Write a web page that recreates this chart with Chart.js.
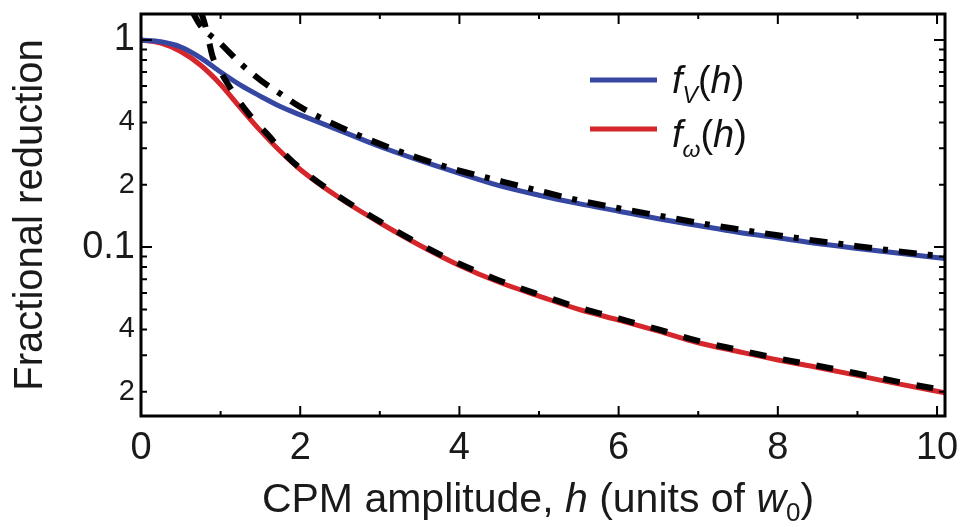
<!DOCTYPE html>
<html>
<head>
<meta charset="utf-8">
<script src="https://cdn.jsdelivr.net/npm/chart.js@4"></script>
<style>
  html, body { margin: 0; padding: 0; background: #fff; }
  #wrap { width: 960px; height: 527px; }
</style>
</head>
<body>
<div id="wrap"><canvas id="reduction-chart" width="960" height="527"></canvas></div>
<script>
// curves
var hMain = [0, 0.25, 0.5, 0.75, 1.0, 1.25, 1.5, 1.75, 2.0, 2.5, 3.0, 3.5, 4.0, 4.5, 5.0, 5.5, 6.0, 6.5, 7.0, 7.5, 8.0, 8.5, 9.0, 9.5, 10.1];
var fV = [1.0, 0.98, 0.925, 0.82, 0.70, 0.605, 0.535, 0.477, 0.435, 0.365, 0.306, 0.262, 0.227, 0.198, 0.178, 0.162, 0.149, 0.137, 0.127, 0.118, 0.111, 0.104, 0.0985, 0.0935, 0.088];
var fW = [1.0, 0.965, 0.88, 0.755, 0.61, 0.47, 0.365, 0.29, 0.237, 0.172, 0.131, 0.102, 0.0815, 0.0676, 0.058, 0.050, 0.0444, 0.0393, 0.0345, 0.0313, 0.0285, 0.0262, 0.024, 0.0219, 0.0198];

// large-h approximations (black dash-dot and dashed)
var hApproxV = [0.64, 0.75, 1.0, 1.25, 1.5, 1.75, 2.0, 2.5, 3.0, 3.5, 4.0, 4.5, 5.0, 5.5, 6.0, 6.5, 7.0, 7.5, 8.0, 8.5, 9.0, 9.5, 10.1];
var approxV = [1.38, 1.17, 0.96, 0.77, 0.64, 0.55, 0.475, 0.38, 0.315, 0.268, 0.234, 0.209, 0.187, 0.168, 0.154, 0.142, 0.131, 0.122, 0.114, 0.107, 0.101, 0.0955, 0.090];
var hApproxW = [0.75, 0.8, 0.85, 0.9, 1.0, 1.13, 1.25, 1.41, 1.62, 1.75, 2.0, 2.5, 3.0, 3.5, 4.0, 4.5, 5.0, 5.5, 6.0, 6.5, 7.0, 7.5, 8.0, 8.5, 9.0, 9.5, 10.1];
var approxW = [1.38, 1.2, 1.0, 0.83, 0.70, 0.58, 0.495, 0.414, 0.34, 0.296, 0.24, 0.174, 0.133, 0.1035, 0.083, 0.069, 0.059, 0.051, 0.0452, 0.040, 0.0352, 0.0319, 0.029, 0.0267, 0.0245, 0.0224, 0.0203];

var xTicks = [0, 1, 2, 3, 4, 5, 6, 7, 8, 9, 10];
var yTicks = [0.02, 0.03, 0.04, 0.05, 0.06, 0.07, 0.08, 0.09, 0.1, 0.2, 0.3, 0.4, 0.5, 0.6, 0.7, 0.8, 0.9, 1];
var yLabelled = [0.02, 0.04, 0.1, 0.2, 0.4, 1];
var yLabelText = ['2', '4', '0.1', '2', '4', '1'];

var BLUE = '#3647a2';
var RED = '#d4262b';
var FONT = "'Liberation Sans', Arial, sans-serif";

function pts(xs, ys) {
  return xs.map(function (x, i) { return { x: x, y: ys[i] }; });
}

function richText(ctx, parts, x, y, align) {
  var total = 0;
  parts.forEach(function (p) { ctx.font = p.font; total += ctx.measureText(p.t).width; });
  var cx = align === 'center' ? x - total / 2 : x;
  ctx.textBaseline = 'alphabetic';
  ctx.textAlign = 'left';
  parts.forEach(function (p) {
    ctx.font = p.font;
    ctx.fillText(p.t, cx, y + (p.dy || 0));
    cx += ctx.measureText(p.t).width;
  });
}

var framePlugin = {
  id: 'frame',
  afterDatasetsDraw: function (chart) {
    var ctx = chart.ctx, a = chart.chartArea;
    var xs = chart.scales.x, ys = chart.scales.y;
    ctx.save();
    ctx.strokeStyle = '#000';
    ctx.lineWidth = 2;
    ctx.beginPath();
    xTicks.forEach(function (v) {
      var px = xs.getPixelForValue(v);
      var len = v % 2 === 0 ? 10 : 5;
      ctx.moveTo(px, a.bottom); ctx.lineTo(px, a.bottom - len);
      ctx.moveTo(px, a.top); ctx.lineTo(px, a.top + len);
    });
    yTicks.forEach(function (v) {
      var py = ys.getPixelForValue(v);
      var len = (v === 0.1 || v === 1) ? 11 : 6;
      ctx.moveTo(a.left, py); ctx.lineTo(a.left + len, py);
      ctx.moveTo(a.right, py); ctx.lineTo(a.right - len, py);
    });
    ctx.stroke();
    ctx.lineWidth = 3;
    ctx.strokeRect(a.left, a.top, a.right - a.left, a.bottom - a.top);

    // legend
    ctx.lineWidth = 5;
    ctx.strokeStyle = BLUE;
    ctx.beginPath(); ctx.moveTo(590, 80); ctx.lineTo(657, 80); ctx.stroke();
    ctx.strokeStyle = RED;
    ctx.beginPath(); ctx.moveTo(590, 129); ctx.lineTo(657, 129); ctx.stroke();
    ctx.fillStyle = '#111';
    var it = 'italic 38px ' + FONT, up = '38px ' + FONT, sub = 'italic 23px ' + FONT;
    richText(ctx, [{ t: 'f', font: it }, { t: 'V', font: sub, dy: 10 }, { t: '(', font: up }, { t: 'h', font: it }, { t: ')', font: up }], 672, 93);
    richText(ctx, [{ t: 'f', font: it }, { t: '\u03c9', font: sub, dy: 10 }, { t: '(', font: up }, { t: 'h', font: it }, { t: ')', font: up }], 672, 147);

    // x axis title
    ctx.fillStyle = '#1a1a1a';
    var r = '41px ' + FONT, i = 'italic 41px ' + FONT, s = '26px ' + FONT;
    richText(ctx, [
      { t: 'CPM amplitude, ', font: r }, { t: 'h', font: i }, { t: ' (units of ', font: r },
      { t: 'w', font: i }, { t: '0', font: s, dy: 9 }, { t: ')', font: r }
    ], 538, 512, 'center');
    ctx.restore();
  }
};

var context = document.getElementById('reduction-chart').getContext('2d');
var chart = new Chart(context, {
  type: 'line',
  data: {
    datasets: [
      {
        label: 'fV approx',
        data: pts(hApproxV, approxV),
        borderColor: '#000',
        borderWidth: 6,
        borderDash: [18, 11, 5, 11],
        borderCapStyle: 'butt',
        order: 0,
      },
      {
        label: 'fw approx',
        data: pts(hApproxW, approxW),
        borderColor: '#000',
        borderWidth: 6,
        borderDash: [17, 17],
        borderCapStyle: 'butt',
        order: 0,
      },
      {
        label: 'f_V(h)',
        data: pts(hMain, fV),
        borderColor: BLUE,
        borderWidth: 5,
        order: 1,
      },
      {
        label: 'f_w(h)',
        data: pts(hMain, fW),
        borderColor: RED,
        borderWidth: 5,
        order: 1,
      }
    ],
  },
  options: {
    responsive: false,
    animation: false,
    parsing: false,
    elements: {
      point: { radius: 0 },
      line: { cubicInterpolationMode: 'monotone', fill: false },
    },
    layout: { padding: { top: 14, right: 15, left: 0, bottom: 0 } },
    plugins: {
      legend: { display: false },
      tooltip: { enabled: false },
    },
    scales: {
      x: {
        type: 'linear',
        min: 0,
        max: 10.1,
        afterBuildTicks: function (scale) {
          scale.ticks = xTicks.map(function (v) { return { value: v }; });
        },
        afterFit: function (scale) {
          scale.height = 111;
          scale.paddingLeft = 0;
          scale.paddingRight = 0;
        },
        grid: { display: false, drawTicks: false },
        border: { display: false },
        ticks: {
          autoSkip: false,
          maxRotation: 0,
          padding: 10,
          color: '#1a1a1a',
          font: { family: FONT, size: 38 },
          callback: function (v) { return v % 2 === 0 ? String(v) : ''; },
        },
      },
      y: {
        type: 'logarithmic',
        min: 0.01528,
        max: 1.335,
        afterBuildTicks: function (scale) {
          scale.ticks = yTicks.map(function (v) { return { value: v }; });
        },
        afterFit: function (scale) {
          scale.width = 141;
          scale.paddingTop = 0;
          scale.paddingBottom = 0;
        },
        grid: { display: false, drawTicks: false },
        border: { display: false },
        title: {
          display: true,
          text: 'Fractional reduction',
          color: '#1a1a1a',
          font: { family: FONT, size: 40 },
          padding: { top: 7, bottom: 0 },
        },
        ticks: {
          autoSkip: false,
          padding: 6,
          color: '#1a1a1a',
          font: function (c) {
            var v = c.tick ? c.tick.value : 1;
            return { family: FONT, size: (v === 0.1 || v === 1) ? 38 : 29 };
          },
          callback: function (v) {
            var k = yLabelled.indexOf(v);
            return k >= 0 ? yLabelText[k] : '';
          },
        },
      },
    },
  },
  plugins: [framePlugin],
});
</script>
</body>
</html>
